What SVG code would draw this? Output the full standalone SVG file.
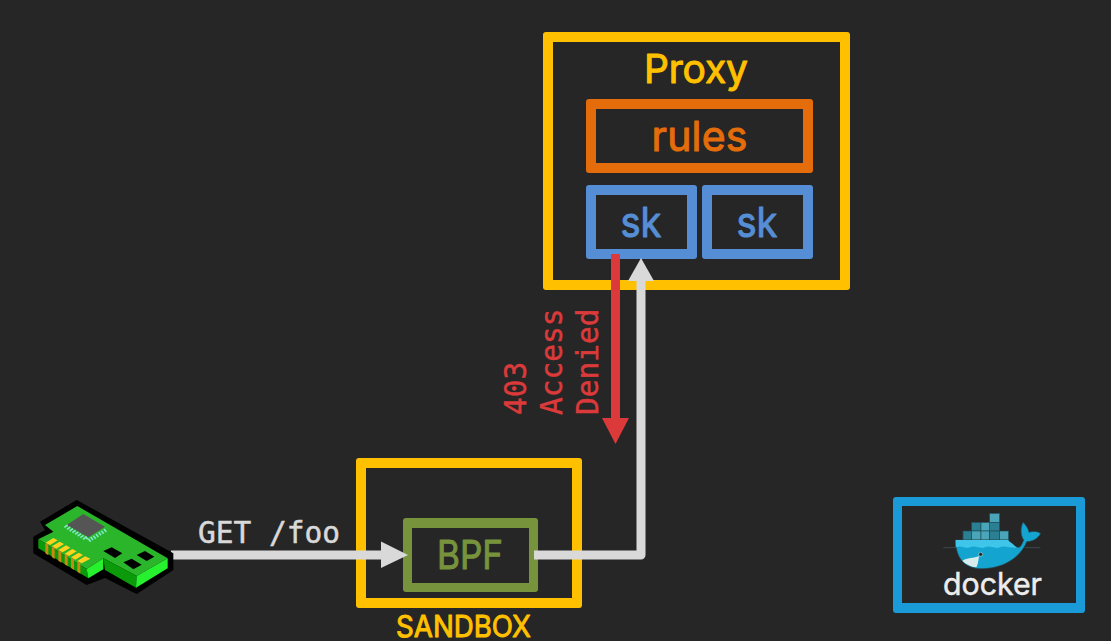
<svg xmlns="http://www.w3.org/2000/svg" width="1111" height="641" viewBox="0 0 1111 641">
<style>
.in{fill:#262626}
.t{font-family:"Inter","Noto Sans",sans-serif;text-anchor:middle;stroke-width:1;stroke-linejoin:round;stroke-linecap:round}
.m{font-family:"DejaVu Sans Mono","Liberation Mono",monospace;font-size:29.5px;stroke-width:.5}
.c{fill:none;stroke-width:9;stroke-linejoin:round}
.pin{stroke:#7fe8c8;stroke-width:5;fill:none}
.cb{fill:#2b7f92;stroke:#1d4f5c;stroke-width:2}
.cl{fill:#4aa5b8;stroke:#1d4f5c;stroke-width:2}
</style>
<rect width="1111" height="641" fill="#262626"/>
<g id="proxy">
<rect x="543" y="32" width="307" height="258" rx="3" fill="#ffc000"/>
<rect class="in" x="553" y="42" width="287" height="238"/>
<text class="t" x="696" y="83" font-size="39" fill="#ffc000" stroke="#ffc000" textLength="104" lengthAdjust="spacing">Proxy</text>
</g>
<g id="rules">
<rect x="586" y="99" width="227" height="74" rx="3" fill="#e46c0a"/>
<rect class="in" x="596" y="109" width="207" height="54"/>
<text class="t" x="699.500" y="151" font-size="41" fill="#e46c0a" stroke="#e46c0a" textLength="96" lengthAdjust="spacing">rules</text>
</g>
<g id="sk1">
<rect x="586" y="185" width="111" height="74" rx="3" fill="#558ed5"/>
<rect class="in" x="596" y="195" width="91" height="54"/>
<text class="t" x="641" y="237" font-size="41" fill="#558ed5" stroke="#558ed5" textLength="41" lengthAdjust="spacingAndGlyphs">sk</text>
</g>
<g id="sk2">
<rect x="702" y="185" width="111" height="74" rx="3" fill="#558ed5"/>
<rect class="in" x="712" y="195" width="91" height="54"/>
<text class="t" x="757" y="237" font-size="41" fill="#558ed5" stroke="#558ed5" textLength="41" lengthAdjust="spacingAndGlyphs">sk</text>
</g>
<g id="sandbox">
<rect x="356" y="458" width="226" height="150" rx="3" fill="#ffc000"/>
<rect class="in" x="366" y="468" width="206" height="130"/>
<text class="t" x="463.500" y="637" font-size="30" fill="#ffc000" stroke="#ffc000" textLength="135" lengthAdjust="spacingAndGlyphs">SANDBOX</text>
</g>
<g id="bpf">
<rect x="403" y="518" width="135" height="74" rx="3" fill="#77933c"/>
<rect class="in" x="412" y="528" width="117" height="55"/>
<text class="t" x="470" y="569" font-size="40" fill="#77933c" stroke="#77933c" textLength="66" lengthAdjust="spacingAndGlyphs">BPF</text>
</g>
<g id="connectors">
<path class="c" d="M171 555H382" stroke="#d9d9d9"/>
<polygon points="381,541.500 408,555 381,568" fill="#d9d9d9"/>
<path class="c" d="M534 555H641V280" stroke="#d9d9d9"/>
<polygon points="628,281 641,258 654,281" fill="#d9d9d9"/>
<path class="c" d="M615.500 254V419" stroke="#dc3a3a"/>
<polygon points="602,418 629,418 615.500,444" fill="#dc3a3a"/>
</g>
<g id="label-get"><text class="m" x="198" y="543" fill="#d9d9d9" stroke="#d9d9d9">GET /foo</text></g>
<g id="label-denied" fill="#dc3a3a" stroke="#dc3a3a">
<text class="m" transform="translate(526 415) rotate(-90)">403</text>
<text class="m" transform="translate(562 415) rotate(-90)">Access</text>
<text class="m" transform="translate(598 415) rotate(-90)">Denied</text>
</g>
<g id="nic" transform="translate(20 490) scale(.33333)">
<polygon points="170,30 460,190 460,240 350,312 255,264 200,285 40,190 40,140 75,120 60,95" fill="#000"/>
<polygon points="172,48 443,205 350,258 250,205 200,237 55,148 100,125 75,105" fill="#2bb52b"/>
<polygon points="55,148 200,237 205,265 55,175" fill="#0a9a0a"/>
<polygon points="200,237 250,205 250,238 205,265" fill="#27f02f"/>
<polygon points="250,205 350,258 348,293 255,240" fill="#0a9a0a"/>
<polygon points="350,258 443,205 443,235 348,293" fill="#27f02f"/>
<g fill="#000">
<polygon points="250,183 275,172 307,190 285,204"/>
<polygon points="310,217 335,206 365,224 340,238"/>
<polygon points="350,195 375,183 403,200 380,213"/>
</g>
<g fill="#ffd21f">
<polygon points="77,158 100,144 113,151 90,165"/>
<polygon points="96,169 119,155 132,162 109,176"/>
<polygon points="115,180 138,166 151,173 128,187"/>
<polygon points="134,191 157,177 170,184 147,198"/>
<polygon points="153,202 176,188 189,195 166,209"/>
<polygon points="172,213 195,199 211,206 185,220"/>
</g>
<g fill="#c88a10">
<polygon points="76,159 85,164 85,196 76,190"/>
<polygon points="95,170 104,175 104,207 95,201"/>
<polygon points="115,181 124,186 124,218 115,212"/>
<polygon points="134,192 143,197 143,229 134,223"/>
<polygon points="153,203 162,208 162,240 153,234"/>
<polygon points="172,214 181,219 181,251 172,245"/>
</g>
<polygon points="190,72 255,110 205,142 140,105" fill="#555"/>
<path class="pin" d="M133 112l10 -7M141 118l10 -7M149 123l10 -7M157 128l10 -7M165 133l10 -7M173 138l10 -7M181 143l10 -7M189 148l10 -7M203 148l-7 -9M212 155l-7 -9M219 150l-7 -9M227 146l-7 -9M235 141l-7 -9M243 136l-7 -9M251 131l-7 -9M259 126l-7 -9"/>
</g>
<g id="docker">
<rect x="893" y="497" width="192" height="116" rx="3" fill="#1a9bd7"/>
<rect class="in" x="902" y="506" width="174" height="97"/>
<g transform="translate(885 490) scale(.33333)">
<g>
<rect class="cl" x="314" y="70" width="30" height="27"/>
<rect class="cb" x="314" y="97" width="30" height="26"/>
<rect class="cb" x="260" y="97" width="28" height="26"/>
<rect class="cl" x="288" y="97" width="26" height="26"/>
<rect class="cb" x="234" y="123" width="26" height="27"/>
<rect class="cl" x="260" y="123" width="28" height="27"/>
<rect class="cl" x="288" y="123" width="26" height="27"/>
<rect class="cb" x="314" y="123" width="30" height="27"/>
<rect class="cl" x="344" y="123" width="27" height="27"/>
</g>
<path d="M175 173H212M420 173H466" stroke="#4a5a60" stroke-width="2" fill="none"/>
<path d="M212 150H370V165L400 172C408 172 412 160 416 150C404 132 408 110 414 97C422 105 430 115 432 127C445 122 458 124 467 130C458 148 440 155 425 155C412 190 370 235 290 236C240 236 212 205 212 150Z" fill="#13a4d0" stroke="#2b4a55" stroke-width="2"/>
<path d="M212 172C230 165 240 178 255 172C270 165 285 178 300 172C315 165 330 178 345 172C360 165 375 175 395 173C385 160 370 155 370 150H212Z" fill="#3fc4ea"/>
<path d="M232 212C245 204 268 204 282 198C280 215 278 225 274 232C258 230 244 224 232 212Z" fill="#d8ecec"/>
<circle cx="287" cy="193" r="6" fill="#1c2a30" stroke="#cfe" stroke-width="1.500"/>
</g>
<text x="992.500" y="595" text-anchor="middle" font-family="Inter,'Noto Sans',sans-serif" font-size="31" fill="#ececec" stroke="#ececec" stroke-width=".5" textLength="99" lengthAdjust="spacingAndGlyphs">docker</text>
</g>
</svg>
